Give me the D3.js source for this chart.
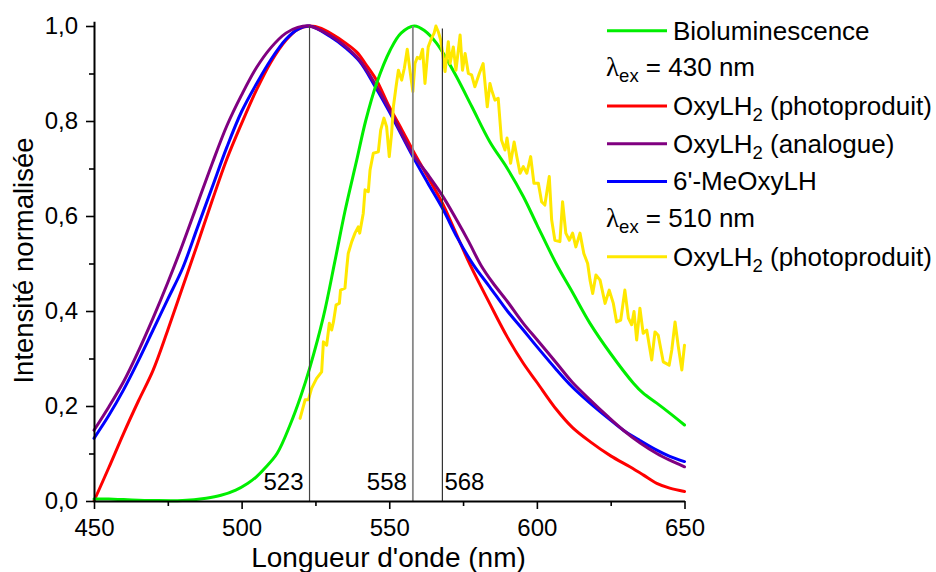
<!DOCTYPE html>
<html><head><meta charset="utf-8">
<script src="https://cdn.jsdelivr.net/npm/d3@7"></script>
<style>
body{margin:0;background:#fff}
text{font-family:"Liberation Sans",Arial,Helvetica,sans-serif;fill:#000}
</style>
</head><body>
<svg id="chart" width="936" height="572"></svg>
<script>
// ---------- data ----------
const xTicks = [450, 500, 550, 600, 650];
const xMinor = [475, 525, 575, 625];
const yTicks = [0, 0.2, 0.4, 0.6, 0.8, 1.0];
const yMinor = [0.1, 0.3, 0.5, 0.7, 0.9];

const bioluminescence = [[450,0.004],[455,0.004],[460,0.003],[470,0.001],[480,0.001],[488,0.006],[493,0.012],[498,0.023],[502,0.037],[505,0.051],[508,0.07],[512,0.1],[516.4,0.16],[520,0.22],[523.2,0.283],[527.7,0.388],[531.6,0.505],[535,0.61],[539,0.718],[542,0.80],[545.7,0.879],[550.3,0.949],[554,0.985],[558.5,1.0],[562,0.99],[566,0.964],[569,0.935],[572.8,0.893],[578,0.83],[584,0.757],[590,0.70],[595.4,0.641],[600,0.582],[606.5,0.50],[612,0.44],[618,0.374],[625,0.31],[632.7,0.248],[636,0.227],[640.6,0.206],[645,0.185],[650,0.16]];

const photoproduit430 = [[450,0.0],[455,0.07],[460,0.142],[465,0.21],[470,0.275],[475,0.36],[480,0.45],[485,0.54],[490,0.632],[495,0.72],[500,0.795],[505,0.865],[510,0.925],[515,0.97],[519,0.993],[523,1.0],[527,0.995],[530,0.985],[535,0.965],[539,0.945],[542,0.92],[545.7,0.886],[550,0.83],[554,0.785],[558,0.738],[563,0.683],[568,0.627],[572.5,0.565],[577.4,0.497],[584,0.416],[590,0.345],[595.4,0.29],[600,0.25],[606.7,0.192],[612,0.155],[618,0.125],[625,0.095],[631.5,0.072],[636,0.055],[640.6,0.037],[645,0.027],[650,0.02]];

const analogue = [[450,0.149],[455,0.198],[460,0.251],[465,0.315],[470,0.385],[475,0.46],[480,0.54],[485,0.625],[490,0.71],[495,0.79],[500,0.855],[505,0.912],[510,0.955],[515,0.985],[519,0.997],[523,1.0],[530,0.98],[535,0.958],[540,0.928],[545,0.88],[550,0.825],[558,0.73],[563,0.688],[568,0.643],[573,0.59],[577,0.545],[581,0.497],[585,0.46],[590,0.42],[595.4,0.374],[600,0.34],[606.7,0.29],[612,0.25],[618,0.213],[624,0.178],[629.3,0.149],[635,0.122],[640.6,0.1],[645,0.086],[650,0.072]];

const meOxyLH = [[450,0.132],[455,0.18],[460,0.234],[465,0.295],[470,0.36],[475,0.425],[480,0.49],[485,0.575],[490,0.66],[495,0.745],[500,0.82],[505,0.878],[510,0.93],[515,0.972],[519,0.993],[523,1.0],[530,0.978],[535,0.955],[540,0.925],[545,0.875],[550,0.82],[558,0.725],[563,0.67],[568.3,0.613],[573,0.555],[578.5,0.497],[584,0.451],[590,0.40],[595.4,0.36],[600,0.325],[606.7,0.276],[612,0.24],[618,0.206],[624,0.175],[629.3,0.149],[635,0.127],[640.6,0.107],[645,0.094],[650,0.083]];

const photoproduit510 = [[519.8,0.174],[521.5,0.213],[522.6,0.213],[523.7,0.237],[525.4,0.258],[527.1,0.272],[527.7,0.335],[528.8,0.328],[529.7,0.374],[530.5,0.36],[531.1,0.377],[532,0.413],[533.1,0.416],[533.5,0.444],[535,0.448],[535.6,0.49],[536.1,0.521],[537.3,0.546],[538.4,0.564],[539.5,0.577],[540,0.564],[541.2,0.606],[541.8,0.655],[542.9,0.651],[543.5,0.697],[544.6,0.732],[546.3,0.735],[547.1,0.781],[548.2,0.806],[549.1,0.788],[550,0.725],[550.8,0.774],[551.4,0.83],[552.3,0.872],[553.1,0.907],[554.2,0.886],[555.1,0.911],[556.1,0.951],[557,0.907],[558,0.862],[558.7,0.921],[559.5,0.934],[560.4,0.931],[561.3,0.951],[562.1,0.879],[563.2,0.956],[564.3,0.974],[565.2,0.985],[565.8,1.0],[566.6,0.988],[567.4,0.971],[568.1,0.942],[568.9,0.904],[570,0.967],[570.6,0.921],[571.7,0.956],[572.6,0.907],[574,0.981],[574.8,0.907],[575.7,0.942],[576.8,0.9],[577.9,0.897],[579,0.872],[580.5,0.9],[581.8,0.921],[583.2,0.83],[584.1,0.879],[584.7,0.865],[585.8,0.844],[586.9,0.848],[588,0.76],[589.2,0.739],[589.9,0.764],[591.1,0.711],[592.3,0.756],[593.2,0.725],[594.3,0.69],[595.4,0.704],[596.6,0.69],[597.9,0.725],[599,0.669],[600.5,0.669],[601.6,0.63],[602.7,0.623],[604.2,0.683],[605,0.592],[606.1,0.549],[607.8,0.546],[608.7,0.63],[609.8,0.564],[611,0.549],[612.1,0.564],[613.2,0.535],[614.6,0.564],[615.9,0.521],[617.2,0.50],[618,0.465],[618.9,0.437],[620,0.476],[621.4,0.465],[623.1,0.416],[624.5,0.444],[625.9,0.416],[627,0.377],[628.4,0.381],[629.8,0.444],[631,0.385],[632.1,0.371],[632.9,0.399],[633.8,0.339],[634.9,0.406],[636,0.353],[637.2,0.36],[638.9,0.297],[640,0.356],[641.1,0.349],[642.8,0.293],[644.8,0.286],[645.7,0.318],[646.8,0.377],[647.9,0.325],[649.1,0.276],[650,0.328]];

const markers = [523, 558, 568];
const markerTops = [1.0, 1.0, 0.995];
const markerLabels = ["523", "558", "568"];

const xTitle = "Longueur d'onde (nm)";
const yTitle = "Intensité normalisée";

// legend rows: [series key or null for header, main text, subscript, trailing text]
const legendRows = [
  ["bio", "Bioluminescence", "", ""],
  [null, "λ", "ex", " = 430 nm"],
  ["p430", "OxyLH", "2", " (photoproduit)"],
  ["ana", "OxyLH", "2", " (analogue)"],
  ["meo", "6'-MeOxyLH", "", ""],
  [null, "λ", "ex", " = 510 nm"],
  ["p510", "OxyLH", "2", " (photoproduit)"]
];

// ---------- drawing ----------
const series = {
  p430: {data: photoproduit430, color: "#ff0000", smooth: true},
  meo:  {data: meOxyLH, color: "#0000ff", smooth: true},
  ana:  {data: analogue, color: "#800080", smooth: true},
  bio:  {data: bioluminescence, color: "#00ee00", smooth: true},
  p510: {data: photoproduit510, color: "#ffe800", smooth: false}
};
const drawOrder = ["p430", "meo", "ana", "bio", "p510"];

const svg = d3.select("#chart");
const x = d3.scaleLinear().domain([450, 650]).range([94, 684.5]);
const y = d3.scaleLinear().domain([0, 1.01]).range([501, 21.25]);

const fmt = v => d3.format(".1f")(v).replace(".", ",");

// curves
drawOrder.forEach(k => {
  const s = series[k];
  const line = d3.line().x(d => x(d[0])).y(d => y(d[1]))
    .curve(s.smooth ? d3.curveCatmullRom.alpha(0.5) : d3.curveLinear);
  svg.append("path").datum(s.data).attr("d", line)
    .attr("fill", "none").attr("stroke", s.color)
    .attr("stroke-width", 3).attr("stroke-linejoin", "round").attr("stroke-linecap", "round");
});

// marker lines
const markerStyles = [{c:"#444", w:1.2}, {c:"#888", w:1.8}, {c:"#333", w:1.2}];
markers.forEach((m, i) => {
  svg.append("line").attr("x1", x(m)).attr("x2", x(m))
    .attr("y1", y(0)).attr("y2", y(markerTops[i]))
    .attr("stroke", markerStyles[i].c).attr("stroke-width", markerStyles[i].w);
  const anchor = i < 2 ? "end" : "start";
  svg.append("text").attr("x", x(m) + (i < 2 ? -6 : 2)).attr("y", 490)
    .attr("text-anchor", anchor).attr("font-size", 24).text(markerLabels[i]);
});

// axes
const gx = svg.append("g").attr("transform", `translate(0,${y(0)})`)
  .call(d3.axisBottom(x).tickValues(xTicks).tickSize(8).tickSizeOuter(0).tickPadding(10).tickFormat(d3.format("d")));
const gxm = svg.append("g").attr("transform", `translate(0,${y(0)})`)
  .call(d3.axisBottom(x).tickValues(xMinor).tickSize(5).tickSizeOuter(0).tickFormat(""));
const gy = svg.append("g").attr("transform", `translate(${x(450)},0)`)
  .call(d3.axisLeft(y).tickValues(yTicks).tickSize(8).tickSizeOuter(0).tickPadding(8).tickFormat(fmt));
const gym = svg.append("g").attr("transform", `translate(${x(450)},0)`)
  .call(d3.axisLeft(y).tickValues(yMinor).tickSize(5).tickSizeOuter(0).tickFormat(""));
[gx, gxm, gy, gym].forEach(g => {
  g.selectAll("path").attr("stroke", "#000").attr("stroke-width", 2);
  g.selectAll("line").attr("stroke", "#000").attr("stroke-width", 1.6);
  g.selectAll("text").attr("font-size", 24).attr("font-family", '"Liberation Sans",Arial,sans-serif').attr("fill", "#000");
});
gxm.select("path").remove();
gym.select("path").remove();

// titles
svg.append("text").attr("x", 388.5).attr("y", 567).attr("text-anchor", "middle")
  .attr("font-size", 28).text(xTitle);
svg.append("text").attr("transform", "translate(33,260.5) rotate(-90)").attr("text-anchor", "middle")
  .attr("font-size", 27.5).text(yTitle);

// legend
legendRows.forEach((r, i) => {
  const ry = 30.7 + i * 37.67;
  const key = r[0];
  let t;
  if (key) {
    svg.append("line").attr("x1", 607).attr("x2", 667).attr("y1", ry).attr("y2", ry)
      .attr("stroke", series[key].color).attr("stroke-width", 3);
    t = svg.append("text").attr("x", 673).attr("y", ry + 8.8).attr("font-size", 26);
    t.append("tspan").text(r[1]);
  } else {
    t = svg.append("text").attr("x", 606).attr("y", ry + 7.5).attr("font-size", 26);
    t.append("tspan").attr("font-family", '"Liberation Serif","Times New Roman",serif').attr("font-size", 27).text(r[1]);
  }
  if (r[2]) {
    t.append("tspan").attr("font-size", 18.5).attr("dy", 6).text(r[2]);
    t.append("tspan").attr("dy", -6).text(r[3]);
  }
});
</script>
</body></html>
